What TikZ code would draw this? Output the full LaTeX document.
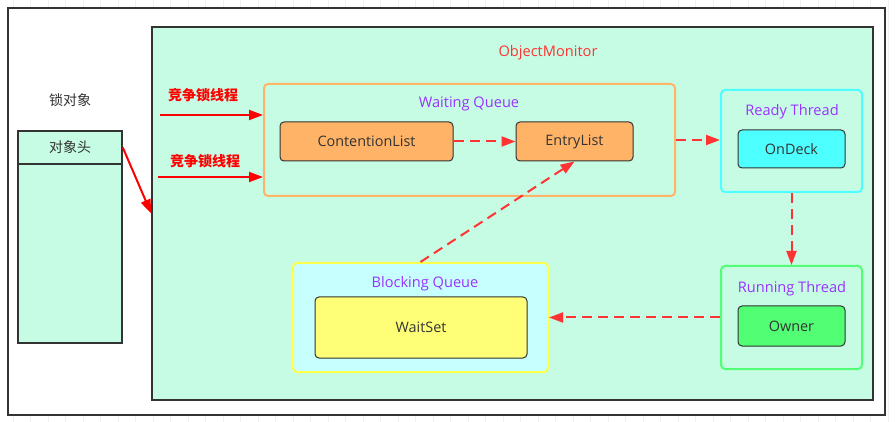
\documentclass[tikz,border=0pt]{standalone}
\usepackage{fontspec}
\setmainfont{Open Sans}
\newfontfamily\cjk{Noto Sans CJK SC}
\usetikzlibrary{arrows.meta,positioning,calc}

\definecolor{mint}{HTML}{C6FCE4}
\definecolor{edge}{HTML}{333333}
\definecolor{flowred}{HTML}{FF3333}
\definecolor{titlepurple}{HTML}{9933FF}
\definecolor{waitorange}{HTML}{FFB366}
\definecolor{readycyan}{HTML}{4DFFFF}
\definecolor{rungreen}{HTML}{52FF74}
\definecolor{blockyellow}{HTML}{FFFF4D}
\definecolor{blockcyan}{HTML}{C7FFFF}
\definecolor{waitsetyellow}{HTML}{FFFF77}

\tikzset{
  plain/.style={draw=edge,line width=1.6pt,fill=mint,inner sep=0pt},
  group/.style={rounded corners=4pt,line width=2pt,fill=mint,inner sep=0pt},
  item/.style={draw=edge,line width=1pt,rounded corners=4pt,inner sep=0pt,
    text=edge,font=\fontsize{14.4}{16}\selectfont},
  title/.style={text=titlepurple,font=\fontsize{14.6}{16}\selectfont},
  flow/.style={flowred,line width=2pt,dash pattern=on 10pt off 6pt,
    -{Triangle[length=14pt,width=10pt]}},
  grab/.style={red,line width=2pt,-{Triangle[length=14pt,width=10pt]}},
}

\begin{document}
\begin{tikzpicture}[x=1pt,y=-1pt]
  \useasboundingbox (0,0) rectangle (895,422);
  % faint grid behind the frame
  \draw[black!6,line width=0.8pt,shift={(13,-5)},step=17.5] (-13,5) grid (882,427);
  \draw[edge,line width=2pt,fill=white] (8,8) rectangle (885,415);

  % lock object
  \node[font=\cjk\fontsize{14}{16}\selectfont,text=edge] (lock) at (70,100) {锁对象};
  \node[plain,minimum width=104,minimum height=212] (objbody) at (70,237) {};
  \node[plain,minimum width=104,minimum height=33,text=edge,
    font=\cjk\fontsize{14}{16}\selectfont] (head) at (70,147.5) {对象头};

  % monitor
  \node[plain,minimum width=721,minimum height=373] (monitor) at (512.5,213.5) {};
  \node[text=flowred,font=\fontsize{14.6}{16}\selectfont] (monname) at (548,53) {ObjectMonitor};

  % waiting queue
  \node[group,draw=waitorange,minimum width=411,minimum height=112] (waiting) at (469.5,140) {};
  \node[title] (waittitle) at (469,104) {Waiting Queue};
  \node[item,fill=waitorange,minimum width=173,minimum height=39] (contention) at (366.5,141.5) {ContentionList};
  \node[item,fill=waitorange,minimum width=117,minimum height=39] (entry) at (574.5,141.5) {EntryList};

  % ready thread
  \node[group,draw=readycyan,minimum width=141,minimum height=102] (ready) at (791.5,141) {};
  \node[title] (readytitle) at (792,112) {Ready Thread};
  \node[item,fill=readycyan,minimum width=107,minimum height=38] (ondeck) at (791.5,149) {OnDeck};

  % running thread
  \node[group,draw=rungreen,minimum width=141,minimum height=103] (running) at (791.5,317.5) {};
  \node[title] (runtitle) at (792,289) {Running Thread};
  \node[item,fill=rungreen,minimum width=107,minimum height=40] (owner) at (791.5,326) {Owner};

  % blocking queue
  \node[group,draw=blockyellow,fill=blockcyan,minimum width=255,minimum height=109] (blocking) at (420.5,317.5) {};
  \node[title] (blocktitle) at (425,284) {Blocking Queue};
  \node[item,fill=waitsetyellow,minimum width=212,minimum height=61] (waitset) at (421,327.5) {WaitSet};

  % threads competing for the lock
  \node[text=red,font=\cjk\bfseries\fontsize{14}{16}\selectfont] (grab1) at (203,95) {竞争锁线程};
  \node[text=red,font=\cjk\bfseries\fontsize{14}{16}\selectfont] (grab2) at (205,161) {竞争锁线程};
  \coordinate (g1) at (160,115);
  \coordinate (g2) at (158,177);
  \draw[grab] (g1) -- (waiting.west |- g1);
  \draw[grab] (g2) -- (waiting.west |- g2);
  \draw[grab] (head.east) -- (monitor.west);

  % transitions
  \draw[flow] (contention) -- (entry);
  \draw[flow] (waiting.east) -- (waiting.east -| ready.west);
  \draw[flow] (ready) -- (running);
  \draw[flow] (running.west) -- (blocking.east);
  \draw[flow] (blocking.north) -- (entry.south);
\end{tikzpicture}
\end{document}
